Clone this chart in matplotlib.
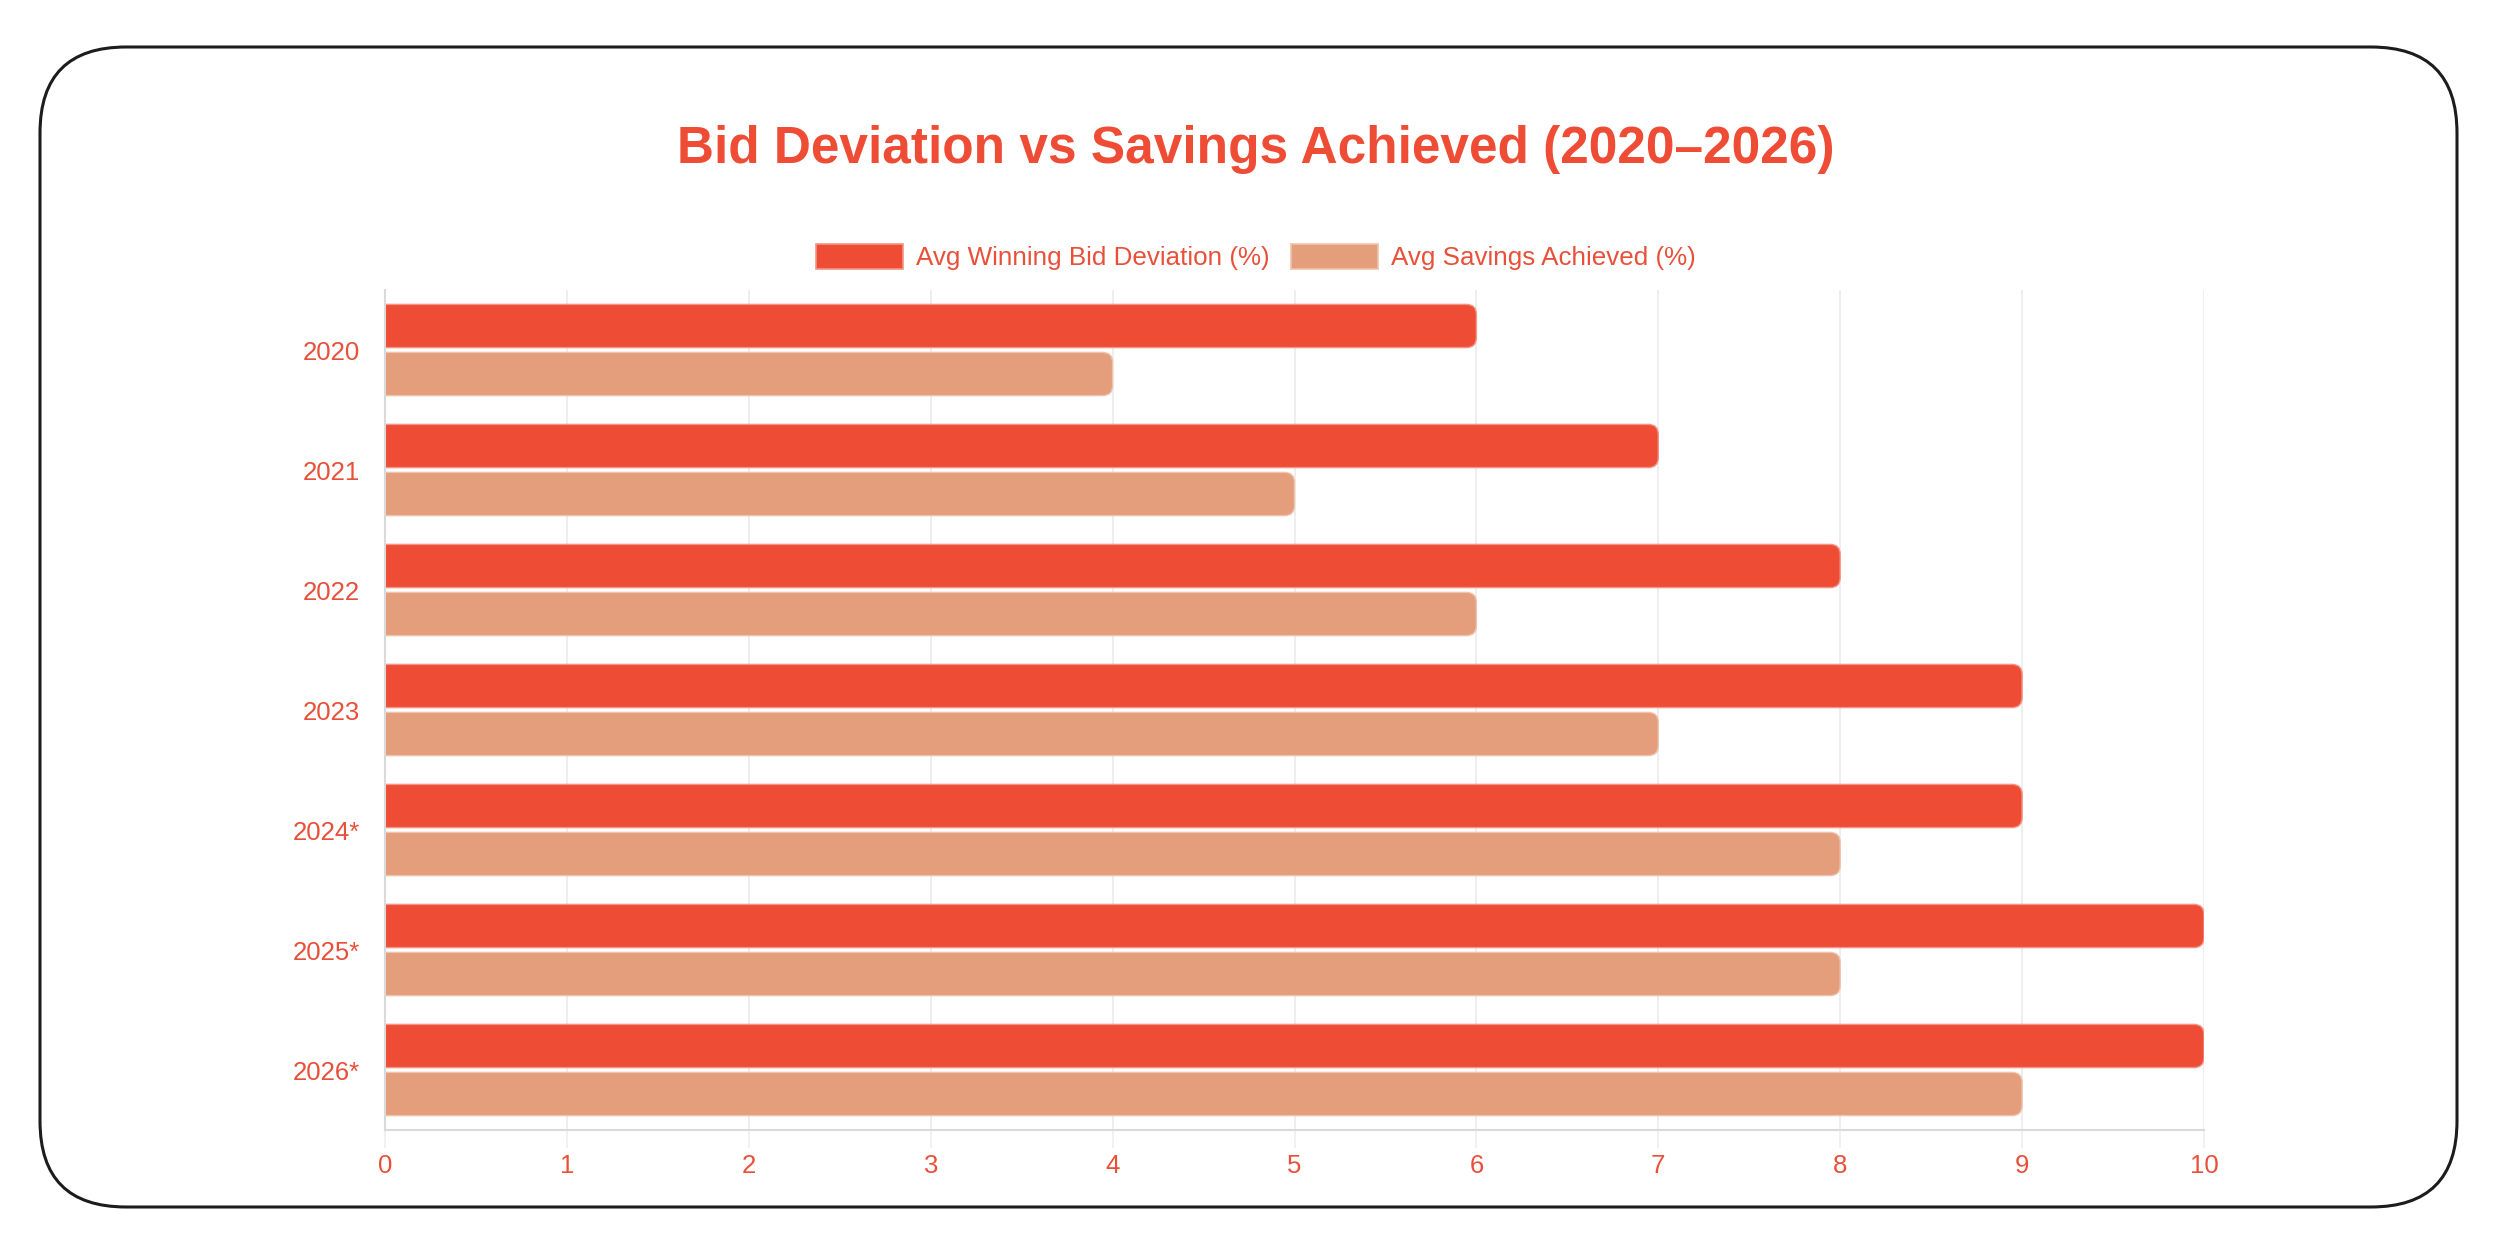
import matplotlib
matplotlib.use("Agg")
import matplotlib.pyplot as plt
import numpy as np
from matplotlib.path import Path
from matplotlib.patches import PathPatch, FancyBboxPatch, Patch
from matplotlib.transforms import IdentityTransform

plt.rcParams['font.family'] = ['Liberation Sans', 'DejaVu Sans']

# ---------------- data ----------------
years = ["2020", "2021", "2022", "2023", "2024*", "2025*", "2026*"]
bid_deviation = [6, 7, 8, 9, 9, 10, 10]
savings_achieved = [4, 5, 6, 7, 8, 8, 9]
series_names = ["Avg Winning Bid Deviation (%)", "Avg Savings Achieved (%)"]
x_ticks = [0, 1, 2, 3, 4, 5, 6, 7, 8, 9, 10]
title = "Bid Deviation vs Savings Achieved (2020\u20132026)"

# ---------------- style ----------------
RED = '#EF4C36'
RED_EDGE = '#F39585'
TAN = '#E49E7B'
TAN_EDGE = '#EFC3AC'
TEXT = '#E8503A'
GRID = '#EDEDED'
AXIS = '#DADADA'

W, H = 2497, 1240
fig = plt.figure(figsize=(W / 100, H / 100), dpi=100)
fig.patch.set_facecolor('white')

# outer rounded frame (pixel coords)
frame = FancyBboxPatch((40, H - 1207), 2417, 1160,
                       boxstyle="round,pad=0,rounding_size=86",
                       transform=IdentityTransform(), facecolor='white',
                       edgecolor='#1c1c1c', linewidth=2.2, zorder=0)
fig.add_artist(frame)

ax_left, ax_right = 385, 2204
ax_top, ax_bottom = 290, 1130
ax = fig.add_axes([ax_left / W, (H - ax_bottom) / H,
                   (ax_right - ax_left) / W, (ax_bottom - ax_top) / H])
ax.set_facecolor('none')

y = np.arange(len(years))
bar_h = 0.36
off = 0.2
b1 = ax.barh(y - off, bid_deviation, height=bar_h, color=RED)
b2 = ax.barh(y + off, savings_achieved, height=bar_h, color=TAN)

ax.set_xlim(0, 10)
ax.set_ylim(len(years) - 0.5, -0.5)

# rounded right ends
px_per_x = (ax_right - ax_left) / 10.0
px_per_y = (ax_bottom - ax_top) / len(years)
r_px = 10
rx = r_px / px_per_x
ry = r_px / px_per_y


def rounded(rect, face, edge):
    x0 = rect.get_x()
    w = rect.get_width()
    y0 = rect.get_y()
    h = rect.get_height()
    x1 = x0 + w
    ylo, yhi = y0, y0 + h
    verts = [(x0, ylo), (x1 - rx, ylo), (x1, ylo), (x1, ylo + ry),
             (x1, yhi - ry), (x1, yhi), (x1 - rx, yhi), (x0, yhi), (x0, ylo)]
    codes = [Path.MOVETO, Path.LINETO, Path.CURVE3, Path.CURVE3,
             Path.LINETO, Path.CURVE3, Path.CURVE3, Path.LINETO, Path.CLOSEPOLY]
    p = PathPatch(Path(verts, codes), facecolor=face, edgecolor=edge,
                  linewidth=1.0, zorder=2)
    ax.add_patch(p)
    rect.set_visible(False)


for r in b1:
    rounded(r, RED, RED_EDGE)
for r in b2:
    rounded(r, TAN, TAN_EDGE)

# grid & axes
ax.set_xticks(x_ticks)
ax.set_xticklabels([str(t) for t in x_ticks])
ax.set_yticks(y)
ax.set_yticklabels(years)
ax.xaxis.grid(True, color=GRID, linewidth=1.3, zorder=0)
ax.yaxis.grid(False)
ax.set_axisbelow(True)
for s in ['top', 'right']:
    ax.spines[s].set_visible(False)
for s in ['left', 'bottom']:
    ax.spines[s].set_color(AXIS)
    ax.spines[s].set_linewidth(1.5)
    ax.spines[s].set_zorder(3)
ax.tick_params(axis='x', length=13, width=1.1, color=GRID, pad=4,
               labelsize=18.5, labelcolor=TEXT)
ax.tick_params(axis='y', length=0, pad=18, labelsize=18.5, labelcolor=TEXT)

# title
fig.text(1256 / W, 1 - 149 / H, title, ha='center', va='center',
         fontsize=37, fontweight='bold', color=RED)

# legend
handles = [Patch(facecolor=RED, edgecolor=RED_EDGE, linewidth=1.2),
           Patch(facecolor=TAN, edgecolor=TAN_EDGE, linewidth=1.2)]
leg = fig.legend(handles, series_names, loc='center',
                 bbox_to_anchor=(1256 / W, 1 - 257 / H), ncol=2,
                 frameon=False, fontsize=18.7, handlelength=3.35,
                 handleheight=1.12, handletextpad=0.5, columnspacing=0.81,
                 borderpad=0, borderaxespad=0)
for t in leg.get_texts():
    t.set_color(TEXT)

fig.savefig("out.png", dpi=100, facecolor='white')
